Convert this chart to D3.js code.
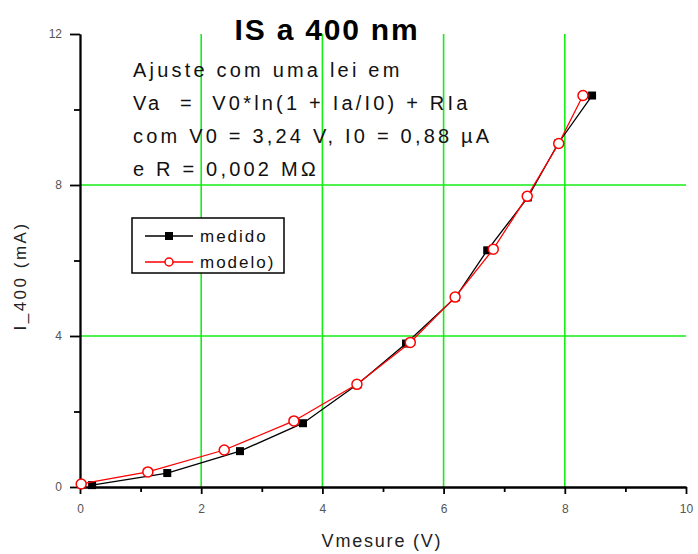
<!DOCTYPE html>
<html>
<head>
<meta charset="utf-8">
<script src="https://cdn.jsdelivr.net/npm/d3@7"></script>
<style>
  body { margin: 0; background: #fff; }
  svg text { font-family: 'Liberation Sans', Arial, sans-serif; }
</style>
</head>
<body>
<div id="chart"></div>
<script>
// measured points (Vmesure, I_400)
var medidoV = [0.2, 1.44, 2.64, 3.68, 4.58, 5.38, 6.2, 6.72, 7.39, 7.89, 8.45];
var medidoI = [0.05, 0.37, 0.95, 1.69, 2.72, 3.8, 5.03, 6.27, 7.67, 9.1, 10.37];
// model points
var modeloV = [0.02, 1.12, 2.38, 3.53, 4.57, 5.45, 6.19, 6.82, 7.38, 7.9, 8.3];
var modeloI = [0.08, 0.4, 0.98, 1.75, 2.72, 3.83, 5.03, 6.3, 7.7, 9.1, 10.37];

var xMajor = [0, 2, 4, 6, 8, 10];
var xMinor = [1, 3, 5, 7, 9];
var yMajor = [0, 4, 8, 12];
var yMinor = [2, 6, 10];
var xGrid = [2, 4, 6, 8];
var yGrid = [4, 8];

var title = 'IS a 400 nm';
var notes = [
  'Ajuste com uma lei em',
  'Va  =  V0*ln(1 + Ia/I0) + RIa',
  'com V0 = 3,24 V, I0 = 0,88 \u00b5A',
  'e R = 0,002 M\u2126'
];
var legendLabels = ['medido', 'modelo)'];

var W = 698, H = 554;
var green = '#14ee14';

var svg = d3.select('#chart').append('svg')
    .attr('width', W)
    .attr('height', H);

var x = d3.scaleLinear().domain([0, 10]).range([80, 686]);
var y = d3.scaleLinear().domain([0, 12]).range([487, 34]);

// grid
svg.append('g').selectAll('line').data(xGrid).enter().append('line')
    .attr('x1', d => x(d)).attr('x2', d => x(d))
    .attr('y1', y(12)).attr('y2', y(0))
    .attr('stroke', green).attr('stroke-width', 1.6);
svg.append('g').selectAll('line').data(yGrid).enter().append('line')
    .attr('x1', x(0)).attr('x2', x(10))
    .attr('y1', d => y(d)).attr('y2', d => y(d))
    .attr('stroke', green).attr('stroke-width', 1.6);

// axes
function styleAxis(g) {
  g.selectAll('path, line').attr('stroke', '#000').attr('stroke-width', 1.8);
  g.selectAll('text').attr('fill', '#555').attr('font-size', 12);
}

svg.append('g').attr('transform', 'translate(0,' + y(0) + ')')
    .call(d3.axisBottom(x).tickValues(xMinor).tickSize(5).tickSizeOuter(0).tickFormat(''))
    .call(styleAxis);
svg.append('g').attr('transform', 'translate(' + x(0) + ',0)')
    .call(d3.axisLeft(y).tickValues(yMinor).tickSize(6).tickSizeOuter(0).tickFormat(''))
    .call(styleAxis);
svg.append('g').attr('transform', 'translate(0,' + y(0) + ')')
    .call(d3.axisBottom(x).tickValues(xMajor).tickSize(7).tickSizeOuter(0).tickPadding(10).tickFormat(d3.format('d')))
    .call(styleAxis);
svg.append('g').attr('transform', 'translate(' + x(0) + ',0)')
    .call(d3.axisLeft(y).tickValues(yMajor).tickSize(10).tickSizeOuter(0).tickPadding(8).tickFormat(d3.format('d')))
    .call(styleAxis);

// series
var medido = medidoV.map((v, i) => [v, medidoI[i]]);
var modelo = modeloV.map((v, i) => [v, modeloI[i]]);
var line = d3.line().x(d => x(d[0])).y(d => y(d[1]));

svg.append('path').datum(medido).attr('d', line)
    .attr('fill', 'none').attr('stroke', '#000').attr('stroke-width', 1.3);
svg.append('g').selectAll('rect').data(medido).enter().append('rect')
    .attr('x', d => x(d[0]) - 4).attr('y', d => y(d[1]) - 4)
    .attr('width', 8).attr('height', 8).attr('fill', '#000');

svg.append('path').datum(modelo).attr('d', line)
    .attr('fill', 'none').attr('stroke', '#f00').attr('stroke-width', 1.3);
svg.append('g').selectAll('circle').data(modelo).enter().append('circle')
    .attr('cx', d => x(d[0])).attr('cy', d => y(d[1])).attr('r', 5)
    .attr('fill', '#fff').attr('stroke', '#f00').attr('stroke-width', 1.5);

// title
svg.append('text').attr('x', 327).attr('y', 40).attr('text-anchor', 'middle')
    .attr('font-size', 30).attr('font-weight', 'bold').attr('letter-spacing', 1.8)
    .attr('fill', '#000').text(title);

// annotation
svg.append('g').selectAll('text').data(notes).enter().append('text')
    .attr('x', 133).attr('y', (d, i) => 77 + i * 33)
    .attr('font-size', 20).attr('letter-spacing', 3.2)
    .attr('fill', '#111').style('white-space', 'pre').text(d => d);

// legend
var lg = svg.append('g');
lg.append('rect').attr('x', 132).attr('y', 218).attr('width', 152).attr('height', 55)
    .attr('fill', '#fff').attr('stroke', '#000').attr('stroke-width', 1.5);
var rows = lg.selectAll('g.row').data(legendLabels).enter().append('g')
    .attr('transform', (d, i) => 'translate(0,' + (236 + i * 26) + ')');
rows.append('line').attr('x1', 145).attr('x2', 193).attr('y1', 0).attr('y2', 0)
    .attr('stroke', (d, i) => i ? '#f00' : '#000').attr('stroke-width', 1.3);
rows.filter((d, i) => i === 0).append('rect')
    .attr('x', 165).attr('y', -4).attr('width', 8).attr('height', 8).attr('fill', '#000');
rows.filter((d, i) => i === 1).append('circle')
    .attr('cx', 169).attr('cy', 0).attr('r', 4)
    .attr('fill', '#fff').attr('stroke', '#f00').attr('stroke-width', 1.5);
rows.append('text').attr('x', 200).attr('y', 6)
    .attr('font-size', 17).attr('letter-spacing', 2).attr('fill', '#111')
    .text(d => d);

// axis titles
svg.append('text').attr('x', 382).attr('y', 547).attr('text-anchor', 'middle')
    .attr('font-size', 18).attr('letter-spacing', 1.8).attr('fill', '#222')
    .text('Vmesure (V)');
svg.append('text').attr('transform', 'translate(26,276) rotate(-90)')
    .attr('text-anchor', 'middle')
    .attr('font-size', 17).attr('letter-spacing', 2.5).attr('fill', '#222')
    .text('I_400 (mA)');
</script>
</body>
</html>
